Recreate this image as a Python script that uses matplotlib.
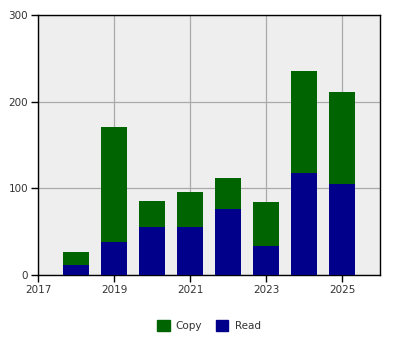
import matplotlib
matplotlib.use('Agg')
import matplotlib.pyplot as plt
from matplotlib.patches import Patch

# 数据
years = [2018, 2019, 2020, 2021, 2022, 2023, 2024, 2025]
read = [11, 38, 55, 55, 76, 33, 118, 105]
copy = [16, 133, 30, 41, 36, 51, 117, 106]

plt.rcParams['font.family'] = ['DejaVu Sans']
plt.rcParams['font.size'] = 7.5

fig = plt.figure(figsize=(4, 3.5), dpi=100)
ax = fig.add_axes([0.095, 0.2143, 0.855, 0.7427])
ax.set_facecolor('#eeeeee')

ax.bar(years, read, width=0.7, color='#00008b', zorder=3)
ax.bar(years, copy, width=0.7, bottom=read, color='#006400', zorder=3)

ax.set_xlim(2017, 2026)
ax.set_ylim(0, 300)
ax.set_xticks([2017, 2019, 2021, 2023, 2025])
ax.set_yticks([0, 100, 200, 300])
ax.grid(True, color='#aaaaaa', linewidth=0.9, zorder=0)
ax.tick_params(length=5, width=1, color='black', labelcolor='#333333', pad=2)
for s in ax.spines.values():
    s.set_linewidth(1)
    s.set_color('black')

handles = [Patch(color='#006400', label='Copy'), Patch(color='#00008b', label='Read')]
fig.legend(handles=handles, loc='center', bbox_to_anchor=(0.522, 0.069), ncol=2,
           frameon=False, handlelength=1.2, handleheight=1.2, handletextpad=0.6,
           columnspacing=1.3, labelcolor='#333333')

fig.savefig('out.png', dpi=100)
